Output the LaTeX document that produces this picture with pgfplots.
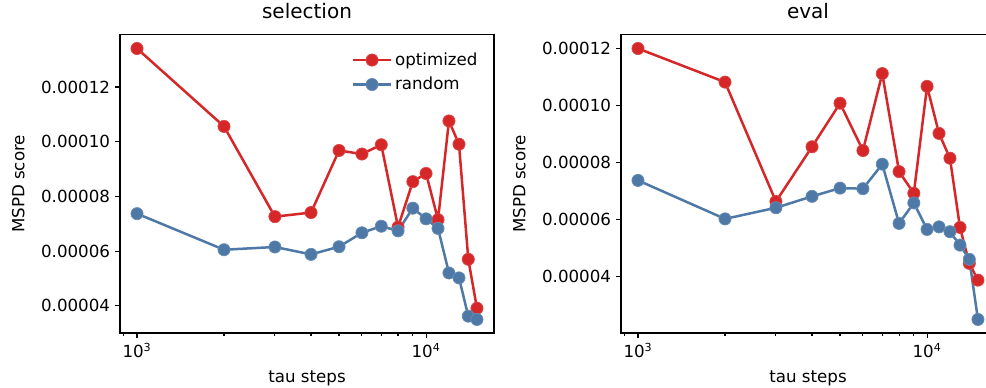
\documentclass[border=0pt]{standalone}
\usepackage{fontspec}
\setmainfont{DejaVu Sans}
\usepackage{pgfplots}
\pgfplotsset{compat=1.18}
\definecolor{cred}{RGB}{214,39,40}
\definecolor{cblue}{RGB}{78,121,167}
\tikzset{
  optline/.style={color=cred, line width=1.8pt, mark=*, mark size=4.4pt, mark options={line width=0.5pt, fill=cred, draw=cred!85!white}},
  rndline/.style={color=cblue, line width=1.8pt, mark=*, mark size=4.4pt, mark options={line width=0.5pt, fill=cblue, draw=cblue!85!white}},
}
\begin{document}
\begin{tikzpicture}[x=1pt,y=1pt]
\begin{axis}[
  xmode=log,
  scale only axis,
  width=269.3pt, height=214.6pt,
  xmin=873.4, xmax=17186,
  font=\fontsize{12}{14}\selectfont,
  axis line style={line width=0.8pt},
  every tick/.style={black, line width=0.8pt},
  tick align=outside,
  major tick length=3.5pt,
  minor tick length=2pt,
  xtick={1000,10000},
  xticklabels={10\textsuperscript{3},10\textsuperscript{4}},
  minor xtick={900,2000,3000,4000,5000,6000,7000,8000,9000},
  xtick pos=bottom, ytick pos=left,
  scaled y ticks=false,
  yticklabel style={inner sep=0pt, xshift=-3.5pt},
  xticklabel style={inner sep=0pt, yshift=-3.5pt},
  title style={at={(axis description cs:0.5,1.0285)}, anchor=base, inner sep=0pt, font=\fontsize{14.4}{16}\selectfont},
  xlabel={tau steps},
  ylabel={MSPD score},
  xlabel style={at={(axis description cs:0.5,-0.165)}, anchor=base, inner sep=0pt},
  ylabel style={at={(axis description cs:-0.272,0.5)}, anchor=center, inner sep=0pt},
  clip=false,
  at={(86.4pt,38.88pt)}, anchor=south west,
  title={selection},
  ymin=3.0045e-5, ymax=1.3906e-4,
  ytick={0.00004,0.00006,0.00008,0.00010,0.00012},
  yticklabels={0.00004,0.00006,0.00008,0.00010,0.00012},
  legend style={draw=none, fill=none, at={(axis description cs:0.975,0.96)}, anchor=north east, row sep=3pt,
    font=\fontsize{12}{14}\selectfont},
  legend cell align=left,
  legend image code/.code={\draw[mark repeat=2,mark phase=2,#1] plot coordinates {(0cm,0cm) (0.48cm,0cm) (0.96cm,0cm)};},
]
\addplot[optline] coordinates {
(1000,0.0001341) (2000,0.0001056) (3000,0.0000726) (4000,0.0000741) (5000,0.0000968)
(6000,0.0000955) (7000,0.0000989) (8000,0.0000688) (9000,0.0000854) (10000,0.0000884)
(11000,0.0000715) (12000,0.0001076) (13000,0.0000991) (14000,0.0000570) (15000,0.0000391)};
\addlegendentry{optimized}
\addplot[rndline] coordinates {
(1000,0.0000737) (2000,0.0000605) (3000,0.0000615) (4000,0.0000588) (5000,0.0000616)
(6000,0.0000667) (7000,0.0000691) (8000,0.0000674) (9000,0.0000757) (10000,0.0000718)
(11000,0.0000683) (12000,0.0000520) (13000,0.0000502) (14000,0.0000362) (15000,0.0000350)};
\addlegendentry{random}
\end{axis}
\begin{axis}[
  xmode=log,
  scale only axis,
  width=269.3pt, height=214.6pt,
  xmin=873.4, xmax=17186,
  font=\fontsize{12}{14}\selectfont,
  axis line style={line width=0.8pt},
  every tick/.style={black, line width=0.8pt},
  tick align=outside,
  major tick length=3.5pt,
  minor tick length=2pt,
  xtick={1000,10000},
  xticklabels={10\textsuperscript{3},10\textsuperscript{4}},
  minor xtick={900,2000,3000,4000,5000,6000,7000,8000,9000},
  xtick pos=bottom, ytick pos=left,
  scaled y ticks=false,
  yticklabel style={inner sep=0pt, xshift=-3.5pt},
  xticklabel style={inner sep=0pt, yshift=-3.5pt},
  title style={at={(axis description cs:0.5,1.0285)}, anchor=base, inner sep=0pt, font=\fontsize{14.4}{16}\selectfont},
  xlabel={tau steps},
  ylabel={MSPD score},
  xlabel style={at={(axis description cs:0.5,-0.165)}, anchor=base, inner sep=0pt},
  ylabel style={at={(axis description cs:-0.272,0.5)}, anchor=center, inner sep=0pt},
  clip=false,
  at={(447.12pt,38.88pt)}, anchor=south west,
  title={eval},
  ymin=2.0145e-5, ymax=1.2476e-4,
  ytick={0.00004,0.00006,0.00008,0.00010,0.00012},
  yticklabels={0.00004,0.00006,0.00008,0.00010,0.00012},
]
\addplot[optline] coordinates {
(1000,0.0001200) (2000,0.0001082) (3000,0.0000663) (4000,0.0000855) (5000,0.0001008)
(6000,0.0000842) (7000,0.0001112) (8000,0.0000768) (9000,0.0000692) (10000,0.0001067)
(11000,0.0000902) (12000,0.0000815) (13000,0.0000572) (14000,0.0000446) (15000,0.0000387)};
\addplot[rndline] coordinates {
(1000,0.0000737) (2000,0.0000602) (3000,0.0000641) (4000,0.0000681) (5000,0.0000710)
(6000,0.0000708) (7000,0.0000794) (8000,0.0000586) (9000,0.0000658) (10000,0.0000565)
(11000,0.0000574) (12000,0.0000557) (13000,0.0000510) (14000,0.0000460) (15000,0.0000249)};
\end{axis}
\pgfresetboundingbox
\useasboundingbox (0pt,0pt) rectangle (709.92pt,278.64pt);
\end{tikzpicture}
\end{document}
